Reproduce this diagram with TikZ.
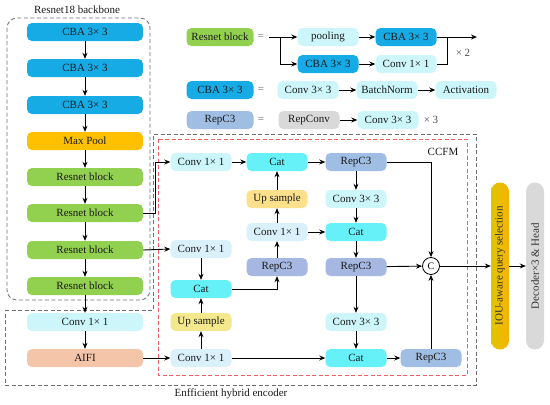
\documentclass[tikz,border=0pt]{standalone}
\usepackage{fontspec}
\setmainfont{Liberation Serif}
\usetikzlibrary{arrows.meta}
\definecolor{cba}{RGB}{23,171,230}
\definecolor{mpool}{RGB}{255,192,0}
\definecolor{rgreen}{RGB}{146,208,80}
\definecolor{lcyan}{RGB}{204,246,250}
\definecolor{lblue}{RGB}{218,240,250}
\definecolor{aifi}{RGB}{245,197,170}
\definecolor{catc}{RGB}{102,240,248}
\definecolor{repc}{RGB}{160,190,228}
\definecolor{repm}{RGB}{166,184,226}
\definecolor{upo}{RGB}{252,224,140}
\definecolor{upy}{RGB}{243,232,140}
\definecolor{grayb}{RGB}{217,217,217}
\definecolor{ioutop}{RGB}{248,178,0}
\definecolor{ioubot}{RGB}{222,198,0}
\definecolor{dashg}{RGB}{110,110,110}
\definecolor{dashr}{RGB}{240,95,95}
\tikzset{
  box/.style={rounded corners=5pt, minimum height=18pt, inner sep=0pt, font=\fontsize{11}{13}\selectfont, text=black!90},
  bb/.style={box, minimum width=116pt},
  mb/.style={box, minimum width=61pt},
  lb/.style={box, minimum width=67pt},
  arr/.style={line width=0.9pt, -{Stealth[length=6pt,width=5pt]}},
  ln/.style={line width=0.9pt},
  gdash/.style={draw=dashg, line width=0.8pt, dash pattern=on 4pt off 2.5pt},
  rdash/.style={draw=dashr, line width=0.7pt, dash pattern=on 4pt off 2.5pt},
  lbl/.style={font=\fontsize{11}{13}\selectfont, text=black!90, inner sep=0pt},
}
\begin{document}
\begin{tikzpicture}[x=1pt,y=-1pt]
\useasboundingbox (0,0) rectangle (550,405);
% frames
\draw[gdash, rounded corners=10pt] (7,18) rectangle (150,300);
\draw[gdash] (5,310) -- (153,310) -- (153,134) -- (476,134) -- (476,385) -- (5,385) -- cycle;
\draw[rdash] (158,139) rectangle (467,375);
\node[lbl] (tbb) at (77,10) {Resnet18 backbone};
\node[lbl] (tenc) at (231,394) {Enfficient hybrid encoder};
\node[lbl] (tccfm) at (443,152) {CCFM};
% backbone
\node[bb, fill=cba] (b1) at (85,32) {CBA 3× 3};
\node[bb, fill=cba] (b2) at (85,68) {CBA 3× 3};
\node[bb, fill=cba] (b3) at (85,105) {CBA 3× 3};
\node[bb, fill=mpool] (mp) at (85,141) {Max Pool};
\node[bb, fill=rgreen] (r1) at (85,177) {Resnet block};
\node[bb, fill=rgreen] (r2) at (85,213) {Resnet block};
\node[bb, fill=rgreen] (r3) at (85,250) {Resnet block};
\node[bb, fill=rgreen] (r4) at (85,286) {Resnet block};
\node[bb, fill=lcyan] (cv) at (85,322) {Conv 1× 1};
\node[bb, fill=aifi] (ai) at (85,358) {AIFI};
\foreach \a/\b in {b1/b2,b2/b3,b3/mp,mp/r1,r1/r2,r2/r3,r3/r4,r4/cv,cv/ai}
  \draw[arr] (\a) -- (\b);
% CCFM nodes
\node[mb, fill=lcyan] (c1t) at (201,162) {Conv 1× 1};
\node[mb, fill=catc] (cat1) at (277,162) {Cat};
\node[mb, fill=repc] (rp1) at (356,162) {RepC3};
\node[mb, fill=upo] (up1) at (277,199) {Up sample};
\node[mb, fill=lcyan] (c3a) at (356,199) {Conv 3× 3};
\node[mb, fill=lblue] (c1m) at (277,232) {Conv 1× 1};
\node[mb, fill=catc] (cat2) at (356,232) {Cat};
\node[mb, fill=repm] (rpm) at (277,267) {RepC3};
\node[mb, fill=repm] (rp2) at (356,267) {RepC3};
\node[mb, fill=lblue] (c1l) at (201,249) {Conv 1× 1};
\node[mb, fill=catc] (cat3) at (201,289) {Cat};
\node[mb, fill=upy] (up2) at (201,322) {Up sample};
\node[mb, fill=lblue] (c1b) at (201,358) {Conv 1× 1};
\node[mb, fill=lcyan] (c3b) at (356,322) {Conv 3× 3};
\node[mb, fill=catc] (cat4) at (356,358) {Cat};
\node[mb, fill=repc] (rp3) at (431,358) {RepC3};
\node[draw, circle, line width=0.8pt, fill=white, minimum size=17pt, inner sep=0pt, font=\fontsize{10}{12}\selectfont] (cc) at (431,266) {C};
\node[box, rounded corners=9pt, minimum width=167pt, minimum height=18pt, rotate=90, left color=ioubot, right color=ioutop, text=black!80] (iou) at (500,266) {IOU-aware query selection};
\node[box, rounded corners=9pt, minimum width=167pt, minimum height=18pt, rotate=90, fill=grayb, text=black!80] (dec) at (535,266) {Decoder×3 \& Head};
% CCFM connectors
\draw[arr] (r2.east) -- ++(12,0) |- (c1t.west);
\draw[arr] (r3.east) -- (c1l.west);
\draw[arr] (ai.east) -- (c1b.west);
\draw[arr] (c1t) -- (cat1);
\draw[arr] (cat1) -- (rp1);
\draw[arr] (up1) -- (cat1);
\draw[arr] (c1m) -- (up1);
\draw[arr] (rpm) -- (c1m);
\draw[arr] (c1m) -- (cat2);
\draw[arr] (rp1) -- (c3a);
\draw[arr] (c3a) -- (cat2);
\draw[arr] (cat2) -- (rp2);
\draw[arr] (rp2) -- (c3b);
\draw[arr] (c3b) -- (cat4);
\draw[arr] (c1l) -- (cat3);
\draw[arr] (up2) -- (cat3);
\draw[arr] (c1b) -- (up2);
\draw[arr] (cat3.east) -| (rpm.south);
\draw[arr] (c1b) -- (cat4);
\draw[arr] (cat4) -- (rp3);
\draw[arr] (rp3) -- (cc);
\draw[arr] (rp1.east) -| (cc.north);
\draw[arr] (rp2) -- (cc);
\draw[arr] (cc.east) -- (cc.east -| iou.north);
\draw[arr] (iou.south) -- (iou.south -| dec.north);
% legend: Resnet block
\node[lb, fill=rgreen] (lrb) at (220,37) {Resnet block};
\node[lbl, text=black!60] (eq1) at (261,37) {=};
\node[mb, fill=lcyan] (pool) at (328,37) {pooling};
\node[mb, fill=cba] (lcbat) at (406,37) {CBA 3× 3};
\node[mb, fill=cba] (lcbab) at (328,64) {CBA 3× 3};
\node[mb, fill=lcyan] (lconv) at (406,64) {Conv 1× 1};
\coordinate (ls) at (269,37);
\coordinate (le) at (477,37);
\draw[ln] (ls) -- ++(11,0) coordinate (lbr);
\draw[arr] (lbr) -- (pool.west);
\draw[arr] (lbr) |- (lcbab.west);
\draw[arr] (pool) -- (lcbat);
\draw[arr] (lcbab) -- (lconv);
\draw[ln] (lcbat.east) -- ++(11,0) coordinate (lmr);
\draw[arr] (lmr) -- (le);
\draw[ln] (lconv.east) -| (lmr);
\node[lbl, text=black!70] (x2) at (463,53) {× 2};
% legend: CBA
\node[lb, fill=cba] (lcba) at (220,90) {CBA 3× 3};
\node[lbl, text=black!60] (eq2) at (261,90) {=};
\node[mb, fill=lcyan] (lc33) at (308,90) {Conv 3× 3};
\node[mb, fill=lcyan] (lbn) at (387,90) {BatchNorm};
\node[mb, fill=lcyan] (lact) at (466,90) {Activation};
\draw[arr] (lc33) -- (lbn);
\draw[arr] (lbn) -- (lact);
% legend: RepC3
\node[lb, fill=repc] (lrep) at (220,120) {RepC3};
\node[lbl, text=black!60] (eq3) at (261,120) {=};
\node[mb, fill=grayb] (lrc) at (309,120) {RepConv};
\node[mb, fill=lcyan] (lc33b) at (388,120) {Conv 3× 3};
\draw[arr] (lrc) -- (lc33b);
\node[lbl, text=black!70] (x3) at (431,120) {× 3};
\end{tikzpicture}
\end{document}
